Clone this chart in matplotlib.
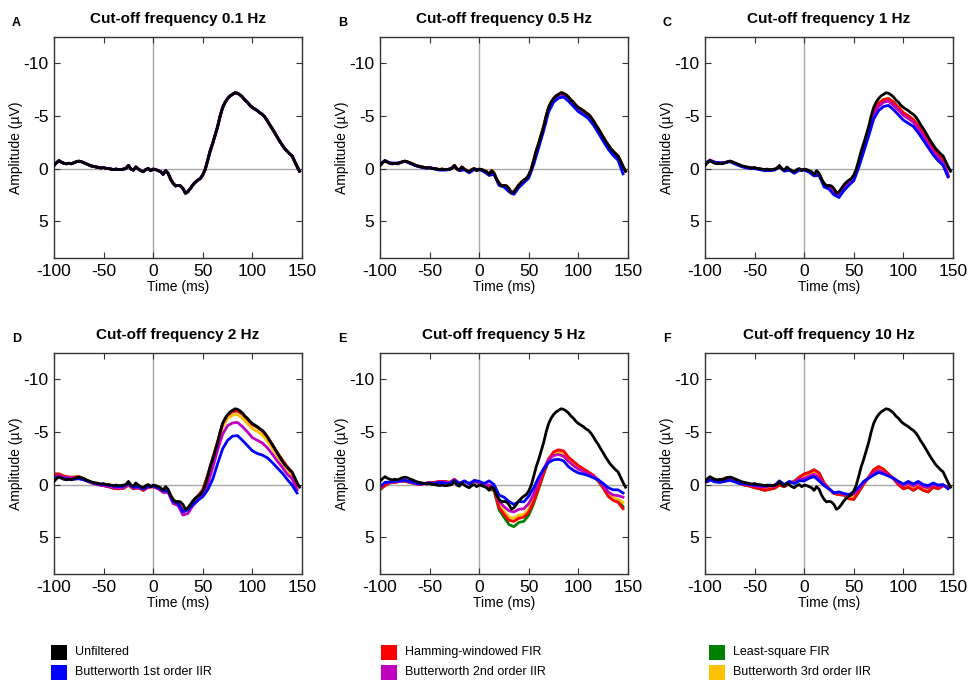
import matplotlib
matplotlib.use('Agg')
import matplotlib.pyplot as plt
import numpy as np
from matplotlib.patches import Rectangle

plt.rcParams['font.family'] = ['Liberation Sans', 'DejaVu Sans']
plt.rcParams['axes.unicode_minus'] = False

# unfiltered ERP, sampled every 2.5 ms from -100 to 147.5 ms (uV, negative up)
unfiltered = [-0.3, -0.55, -0.75, -0.6, -0.5, -0.45, -0.5, -0.45, -0.55, -0.65,
              -0.7, -0.65, -0.55, -0.45, -0.35, -0.25, -0.2, -0.15, -0.1, -0.05,
              -0.1, 0.0, 0.0, 0.05, 0.1, 0.05, 0.1, 0.1, 0.05, 0.0,
              -0.3, 0.05, 0.15, -0.15, 0.05, 0.2, 0.3, 0.1, 0.0, 0.2,
              0.05, 0.1, 0.2, 0.3, 0.55, 0.2, 0.45, 1.0, 1.4, 1.65,
              1.6, 1.65, 1.9, 2.35, 2.2, 1.9, 1.55, 1.3, 1.1, 0.95,
              0.6, 0.05, -0.8, -1.7, -2.4, -3.2, -4.0, -5.0, -5.8, -6.3,
              -6.65, -6.9, -7.05, -7.2, -7.15, -7.0, -6.8, -6.5, -6.3, -6.0,
              -5.8, -5.65, -5.5, -5.3, -5.15, -4.9, -4.55, -4.15, -3.8, -3.4,
              -3.0, -2.6, -2.25, -1.9, -1.65, -1.4, -1.2, -0.7, -0.2, 0.25]
time_fine = np.linspace(-100, 147.5, 100)

# filtered curves, sampled every 5 ms from -100 to 145 ms
time_coarse = np.linspace(-100, 145, 50)

b_blue = [-0.4, -0.75, -0.55, -0.5, -0.55, -0.7, -0.5, -0.3, -0.15, -0.05,
          -0.05, 0.05, 0.15, 0.15, 0.1, -0.2, 0.2, 0.1, 0.4, 0.1,
          0.1, 0.3, 0.65, 0.55, 1.6, 1.75, 2.2, 2.45, 1.8, 1.35,
          0.9, -0.4, -2.0, -3.6, -5.4, -6.3, -6.7, -6.8, -6.4, -5.9,
          -5.4, -5.1, -4.75, -4.15, -3.4, -2.6, -1.85, -1.25, -0.8, 0.5]
b_magenta = [-0.35, -0.75, -0.5, -0.5, -0.55, -0.7, -0.55, -0.35, -0.2, -0.1,
             -0.1, 0.0, 0.1, 0.1, 0.05, -0.25, 0.2, 0.1, 0.35, 0.05,
             0.1, 0.25, 0.6, 0.5, 1.5, 1.7, 2.05, 2.3, 1.65, 1.2,
             0.7, -0.65, -2.25, -3.85, -5.65, -6.5, -6.9, -7.0, -6.65, -6.15,
             -5.65, -5.35, -5.0, -4.4, -3.65, -2.85, -2.1, -1.5, -1.05, -0.05]

c_blue = [-0.5, -0.75, -0.6, -0.55, -0.55, -0.65, -0.45, -0.25, -0.1, 0.0,
          0.0, 0.1, 0.2, 0.2, 0.15, -0.15, 0.25, 0.15, 0.45, 0.15,
          0.15, 0.35, 0.7, 0.65, 1.75, 1.95, 2.5, 2.75, 2.1, 1.6,
          1.15, -0.1, -1.6, -3.1, -4.7, -5.5, -5.9, -6.0, -5.6, -5.1,
          -4.6, -4.3, -4.0, -3.4, -2.7, -2.0, -1.3, -0.75, -0.3, 0.8]
c_magenta = [-0.45, -0.8, -0.6, -0.55, -0.55, -0.7, -0.5, -0.3, -0.15, -0.05,
             -0.05, 0.05, 0.15, 0.15, 0.1, -0.2, 0.2, 0.1, 0.4, 0.1,
             0.1, 0.3, 0.65, 0.55, 1.6, 1.8, 2.3, 2.55, 1.9, 1.4,
             0.95, -0.35, -1.9, -3.45, -5.1, -5.9, -6.3, -6.4, -6.0, -5.55,
             -5.05, -4.75, -4.4, -3.8, -3.1, -2.35, -1.65, -1.05, -0.6, 0.6]
c_red = [-0.45, -0.8, -0.55, -0.5, -0.55, -0.7, -0.5, -0.3, -0.15, -0.05,
         -0.05, 0.05, 0.15, 0.15, 0.1, -0.2, 0.2, 0.1, 0.35, 0.1,
         0.1, 0.25, 0.6, 0.5, 1.5, 1.7, 2.1, 2.4, 1.75, 1.3,
         0.8, -0.55, -2.15, -3.7, -5.4, -6.2, -6.55, -6.65, -6.3, -5.8,
         -5.3, -5.0, -4.65, -4.05, -3.35, -2.6, -1.9, -1.3, -0.85, 0.7]

d_blue = [-0.6, -0.7, -0.55, -0.5, -0.5, -0.55, -0.45, -0.3, -0.15, -0.05,
          0.0, 0.05, 0.15, 0.2, 0.15, -0.1, 0.25, 0.2, 0.4, 0.15,
          0.15, 0.3, 0.6, 0.6, 1.6, 1.8, 2.6, 2.4, 1.9, 1.5,
          1.15, 0.5, -0.5, -2.0, -3.4, -4.2, -4.6, -4.65, -4.2, -3.7,
          -3.2, -2.95, -2.8, -2.55, -2.1, -1.6, -1.1, -0.5, 0.05, 0.8]
d_magenta = [-0.8, -0.85, -0.7, -0.65, -0.6, -0.6, -0.45, -0.25, -0.1, 0.05,
             0.1, 0.2, 0.3, 0.35, 0.3, 0.0, 0.35, 0.3, 0.45, 0.25,
             0.2, 0.4, 0.75, 0.75, 1.8, 2.0, 2.9, 2.75, 2.0, 1.5,
             1.0, 0.0, -1.6, -3.3, -4.8, -5.6, -5.85, -5.9, -5.5, -5.0,
             -4.45, -4.2, -3.95, -3.5, -2.9, -2.25, -1.65, -1.0, -0.55, 0.5]
d_red = [-1.0, -1.0, -0.8, -0.7, -0.7, -0.75, -0.55, -0.3, -0.1, 0.0,
         0.1, 0.2, 0.35, 0.4, 0.35, 0.05, 0.4, 0.3, 0.55, 0.25,
         0.2, 0.35, 0.65, 0.6, 1.5, 1.7, 2.5, 2.3, 1.6, 1.1,
         0.5, -0.9, -2.5, -4.1, -5.8, -6.6, -6.95, -7.0, -6.7, -6.2,
         -5.7, -5.45, -5.1, -4.55, -3.8, -3.05, -2.35, -1.7, -1.1, 0.1]
d_orange = [-0.9, -0.95, -0.75, -0.7, -0.65, -0.7, -0.5, -0.3, -0.1, 0.0,
            0.1, 0.2, 0.3, 0.35, 0.3, 0.0, 0.35, 0.3, 0.5, 0.25,
            0.2, 0.35, 0.7, 0.65, 1.6, 1.8, 2.6, 2.45, 1.75, 1.25,
            0.7, -0.6, -2.2, -3.8, -5.45, -6.3, -6.6, -6.65, -6.3, -5.8,
            -5.3, -5.05, -4.7, -4.15, -3.45, -2.75, -2.05, -1.45, -0.9, 0.25]

e_blue = [0.2, -0.2, -0.25, -0.3, -0.35, -0.4, -0.3, -0.15, -0.05, -0.1,
          -0.15, -0.1, -0.2, -0.15, -0.1, -0.4, -0.1, -0.35, -0.05, -0.4,
          -0.3, -0.1, -0.35, 0.0, 1.0, 1.2, 1.6, 1.9, 1.6, 1.65,
          1.1, 0.3, -0.7, -1.5, -2.1, -2.35, -2.4, -2.25, -1.7, -1.35,
          -1.1, -1.0, -0.85, -0.65, -0.45, -0.1, 0.3, 0.5, 0.5, 0.8]
e_magenta = [0.3, -0.15, -0.2, -0.25, -0.3, -0.35, -0.25, -0.1, 0.0, -0.1,
             -0.15, -0.15, -0.25, -0.25, -0.15, -0.45, -0.1, -0.3, -0.1, -0.3,
             -0.2, 0.0, 0.05, 0.3, 1.6, 2.1, 2.5, 2.6, 2.35, 2.3,
             1.8, 0.9, -0.3, -1.5, -2.4, -2.75, -2.85, -2.7, -2.2, -1.8,
             -1.45, -1.25, -1.0, -0.8, -0.45, 0.1, 0.7, 1.0, 1.05, 1.2]
e_red = [0.4, 0.1, -0.2, -0.2, -0.3, -0.35, -0.2, -0.1, 0.0, -0.1,
         -0.2, -0.2, -0.3, -0.3, -0.2, -0.5, -0.1, -0.3, -0.1, -0.3,
         -0.2, -0.05, 0.3, 0.5, 2.2, 2.8, 3.4, 3.5, 3.2, 3.1,
         2.6, 1.6, 0.3, -1.1, -2.4, -3.1, -3.3, -3.2, -2.6, -2.2,
         -1.8, -1.5, -1.2, -0.9, -0.4, 0.3, 1.1, 1.5, 1.7, 2.3]
e_orange = [0.35, 0.0, -0.2, -0.2, -0.3, -0.35, -0.2, -0.1, 0.0, -0.1,
            -0.2, -0.2, -0.3, -0.3, -0.2, -0.5, -0.1, -0.3, -0.1, -0.3,
            -0.2, 0.0, 0.2, 0.45, 2.0, 2.55, 3.1, 3.2, 2.9, 2.85,
            2.3, 1.3, 0.0, -1.3, -2.5, -2.95, -3.05, -2.95, -2.4, -2.0,
            -1.6, -1.35, -1.1, -0.85, -0.4, 0.25, 0.95, 1.3, 1.4, 1.7]
e_green = [0.5, 0.1, -0.15, -0.2, -0.3, -0.3, -0.2, -0.1, 0.0, -0.1,
           -0.15, -0.2, -0.3, -0.3, -0.2, -0.45, -0.1, -0.3, -0.1, -0.3,
           -0.15, 0.05, 0.4, 0.6, 2.4, 3.1, 3.8, 4.0, 3.6, 3.5,
           2.9, 1.8, 0.4, -1.0, -2.3, -3.0, -3.2, -3.1, -2.5, -2.1,
           -1.7, -1.4, -1.1, -0.8, -0.3, 0.35, 1.1, 1.45, 1.6, 2.1]

f_blue = [-0.2, -0.45, -0.25, -0.2, -0.3, -0.4, -0.25, -0.1, -0.05, 0.0,
          0.05, 0.1, 0.15, 0.05, 0.1, -0.35, 0.0, -0.3, -0.1, -0.35,
          -0.35, -0.6, -0.75, -0.35, 0.1, 0.4, 0.8, 0.7, 0.85, 0.95,
          0.7, 0.25, -0.3, -0.6, -0.9, -1.15, -1.0, -0.8, -0.6, -0.3,
          -0.05, -0.3, -0.05, -0.3, 0.0, 0.1, -0.15, 0.05, 0.0, 0.4]
f_magenta = [-0.2, -0.45, -0.3, -0.25, -0.35, -0.45, -0.3, -0.1, -0.05, 0.05,
             0.1, 0.2, 0.25, 0.15, 0.15, -0.25, 0.05, -0.25, -0.2, -0.5,
             -0.6, -0.8, -1.0, -0.65, 0.0, 0.4, 0.8, 0.75, 0.9, 1.05,
             0.9, 0.4, -0.2, -0.65, -1.1, -1.35, -1.15, -0.85, -0.6, -0.2,
             0.1, -0.1, 0.15, -0.1, 0.2, 0.3, 0.0, 0.15, 0.05, 0.35]
f_red = [-0.2, -0.4, -0.35, -0.4, -0.6, -0.7, -0.4, -0.1, 0.05, 0.15,
         0.3, 0.4, 0.55, 0.45, 0.35, 0.05, 0.2, -0.1, -0.3, -0.7,
         -1.0, -1.15, -1.4, -1.1, -0.15, 0.4, 0.85, 0.95, 1.0, 1.35,
         1.4, 0.7, -0.05, -0.7, -1.4, -1.7, -1.45, -1.0, -0.55, 0.0,
         0.4, 0.25, 0.55, 0.25, 0.55, 0.7, 0.25, 0.4, 0.1, 0.2]
f_orange = [-0.2, -0.45, -0.3, -0.3, -0.45, -0.55, -0.35, -0.1, 0.0, 0.1,
            0.2, 0.3, 0.4, 0.3, 0.25, -0.1, 0.1, -0.2, -0.25, -0.6,
            -0.8, -0.95, -1.2, -0.9, -0.05, 0.4, 0.85, 0.85, 0.95, 1.2,
            1.15, 0.55, -0.1, -0.7, -1.25, -1.5, -1.3, -0.95, -0.6, -0.1,
            0.25, 0.05, 0.35, 0.05, 0.35, 0.5, 0.1, 0.25, 0.05, 0.3]

titles = ['Cut-off frequency 0.1 Hz', 'Cut-off frequency 0.5 Hz', 'Cut-off frequency 1 Hz',
          'Cut-off frequency 2 Hz', 'Cut-off frequency 5 Hz', 'Cut-off frequency 10 Hz']
letters = ['A', 'B', 'C', 'D', 'E', 'F']

filter_names = ['Unfiltered', 'Butterworth 1st order IIR', 'Hamming-windowed FIR',
                'Butterworth 2nd order IIR', 'Least-square FIR', 'Butterworth 3rd order IIR']
colors = {'black': 'black', 'blue': '#0000ff', 'red': '#ff0000',
          'magenta': '#bf00bf', 'green': '#008000', 'orange': '#ffc000'}

raw = (time_fine, unfiltered)
# per panel: (green, orange, red, magenta, blue) each as (time, values); black is always unfiltered
panels = [
    [raw, raw, raw, raw, raw],
    [raw, raw, raw, (time_coarse, b_magenta), (time_coarse, b_blue)],
    [(time_coarse, c_red), (time_coarse, c_red), (time_coarse, c_red),
     (time_coarse, c_magenta), (time_coarse, c_blue)],
    [(time_coarse, d_red), (time_coarse, d_orange), (time_coarse, d_red),
     (time_coarse, d_magenta), (time_coarse, d_blue)],
    [(time_coarse, e_green), (time_coarse, e_orange), (time_coarse, e_red),
     (time_coarse, e_magenta), (time_coarse, e_blue)],
    [(time_coarse, f_red), (time_coarse, f_orange), (time_coarse, f_red),
     (time_coarse, f_magenta), (time_coarse, f_blue)],
]
draw_order = ['green', 'orange', 'red', 'magenta', 'blue']

W, H = 970, 682
fig = plt.figure(figsize=(W / 100, H / 100), dpi=100)

lefts = [54, 380, 705]
tops = [37, 353]
ax_w, ax_h = 248, 221

for i in range(6):
    row, col = divmod(i, 3)
    l = lefts[col]
    t = tops[row]
    ax = fig.add_axes([l / W, (H - t - ax_h) / H, ax_w / W, ax_h / H])
    ax.axhline(0, color='#a8a8a8', lw=1.0, zorder=1)
    ax.axvline(0, color='#a8a8a8', lw=1.0, zorder=1)
    for name, (tx, vals) in zip(draw_order, panels[i]):
        ax.plot(tx, vals, color=colors[name], lw=2.0, zorder=2)
    ax.plot(time_fine, unfiltered, color='black', lw=2.0, zorder=3)

    ax.set_xlim(-100, 150)
    ax.set_ylim(8.5, -12.5)
    ax.set_xticks([-100, -50, 0, 50, 100, 150])
    ax.set_yticks([-10, -5, 0, 5])
    ax.tick_params(direction='in', length=4, width=0.8, labelsize=12.5,
                   top=True, right=True, color='#333333', pad=4)
    for s in ax.spines.values():
        s.set_color('#333333')
        s.set_linewidth(1.0)
    ax.set_xlabel('Time (ms)', fontsize=10, labelpad=1)
    ax.set_ylabel('Amplitude (\u00b5V)', fontsize=10)
    ax.yaxis.set_label_coords(-31 / ax_w, 0.5)
    ax.set_title(titles[i], fontsize=11, fontweight='bold', pad=10)
    fig.text((l - 42) / W, 1 - (t - 14) / H, letters[i], fontsize=9,
             fontweight='bold', ha='left', va='center')

# legend at bottom
leg_x = [51, 381, 709]
leg_y = [652, 672]
legend_colors = ['black', 'blue', 'red', 'magenta', 'green', 'orange']
for k, (name, c) in enumerate(zip(filter_names, legend_colors)):
    col, row = divmod(k, 2)
    x = leg_x[col]
    y = leg_y[row]
    fig.patches.append(Rectangle((x / W, 1 - (y + 8) / H), 16 / W, 15 / H,
                                 transform=fig.transFigure, facecolor=colors[c],
                                 edgecolor='none'))
    fig.text((x + 24) / W, 1 - y / H, name, fontsize=9, ha='left', va='center')

plt.savefig('out.png', dpi=100)
